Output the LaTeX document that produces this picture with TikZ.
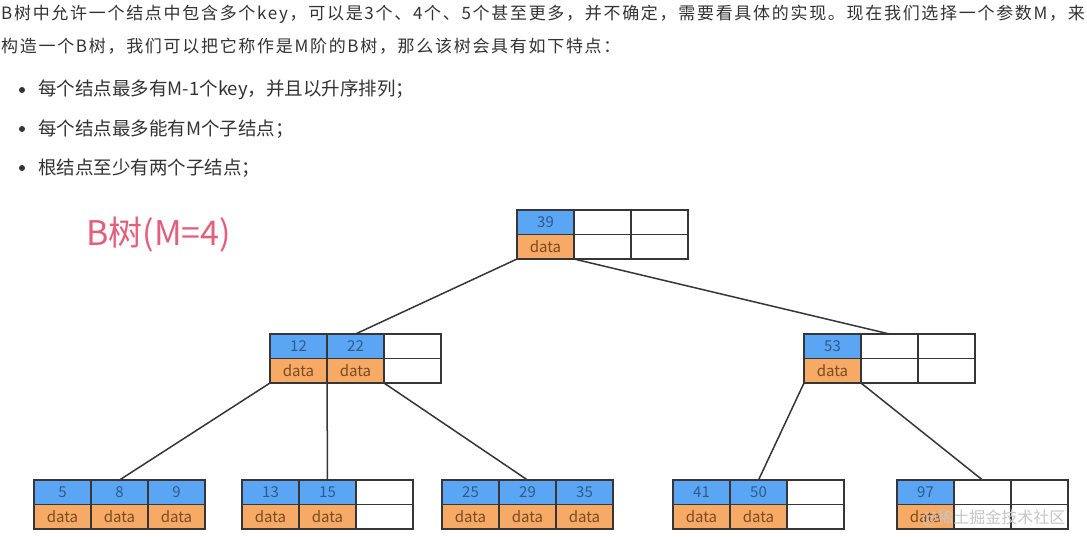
\documentclass[tikz,border=0pt]{standalone}
\usepackage{fontspec}
\setmainfont{Noto Sans CJK SC}
\newfontfamily\widefont[LetterSpace=10]{Noto Sans CJK SC}
\usetikzlibrary{positioning}
\definecolor{keyblue}{HTML}{5AA6F5}
\definecolor{keytext}{HTML}{2D5B8C}
\definecolor{dataorange}{HTML}{F7AA66}
\definecolor{datatext}{HTML}{7A4B22}
\definecolor{titlepink}{HTML}{E3607C}
\definecolor{bodygray}{HTML}{333333}
\definecolor{edgegray}{HTML}{363636}

% one slot of a B-tree node: key on top, data below (empty key = free slot)
\newcommand{\bcell}[3]{%
  \ifx&#3&
    \node[freecell, #2] (#1) {};
    \node[freecell, below=0pt of #1] (#1d) {};
  \else
    \node[keycell, #2] (#1) {#3};
    \node[datacell, below=0pt of #1] (#1d) {data};
  \fi}
% a B-tree node with three slots, placed by its top left corner
\newcommand{\btnode}[5]{%
  \bcell{#1a}{anchor=north west, at={(#2)}}{#3}
  \bcell{#1b}{right=0pt of #1a}{#4}
  \bcell{#1c}{right=0pt of #1b}{#5}}

\begin{document}
\begin{tikzpicture}[
        x=1pt, y=-1pt,
        cell/.style={
            minimum width=57pt,
            minimum height=24.5pt,
            inner sep=0pt,
            outer sep=0pt,
            draw=edgegray,
            line width=1.6pt,
            font=\fontsize{15}{15}\selectfont
        },
        keycell/.style={cell, fill=keyblue, text=keytext},
        datacell/.style={cell, fill=dataorange, text=datatext},
        freecell/.style={cell, fill=white},
        link/.style={edgegray, line width=1.5pt},
        body/.style={anchor=west, inner sep=0pt, text=bodygray,
            font=\widefont\fontsize{17}{17}\selectfont},
        item/.style={body, font=\normalfont\fontsize{18.5}{18.5}\selectfont},
        dot/.style={circle, fill=bodygray, inner sep=0pt, minimum size=6pt}
    ]
        \useasboundingbox[fill=white] (0,0) rectangle (1087,536);

        % intro text
        \node[body] (intro1) at (1,14) {B树中允许一个结点中包含多个key，可以是3个、4个、5个甚至更多，并不确定，需要看具体的实现。现在我们选择一个参数M，来};
        \node[body] (intro2) at (1,46) {构造一个B树，我们可以把它称作是M阶的B树，那么该树会具有如下特点：};

        % properties
        \node[dot] (d1) at (22,90) {};
        \node[dot] (d2) at (22,129) {};
        \node[dot] (d3) at (22,168) {};
        \node[item, right=13pt of d1] (p1) {每个结点最多有M-1个key，并且以升序排列；};
        \node[item, right=13pt of d2] (p2) {每个结点最多能有M个子结点；};
        \node[item, right=13pt of d3] (p3) {根结点至少有两个子结点；};

        \node[anchor=west, inner sep=0pt, text=titlepink,
            font=\fontsize{34}{34}\selectfont] (title) at (86,235) {B树(M=4)};

        % tree nodes
        \btnode{root}{517,210}{39}{}{}
        \btnode{L}{270,334}{12}{22}{}
        \btnode{R}{804,334}{53}{}{}
        \btnode{Ba}{34,480}{5}{8}{9}
        \btnode{Bb}{242,480}{13}{15}{}
        \btnode{Bc}{442,480}{25}{29}{35}
        \btnode{Bd}{673,480}{41}{50}{}
        \btnode{Be}{897,480}{97}{}{}

        % child pointers
        \draw[link] (rootad.south west) -- (Lb.north);
        \draw[link] (rootad.south east) -- (Rb.north);
        \draw[link] (Lad.south west) -- (Bab.north);
        \draw[link] (Lad.south east) -- (Bbb.north);
        \draw[link] (Lbd.south east) -- (Bcb.north);
        \draw[link] (Rad.south west) -- (Bdb.north);
        \draw[link] (Rad.south east) -- (Beb.north);

        \node[anchor=west, inner sep=0pt, text=gray!45,
            font=\fontsize{16}{16}\selectfont] (mark) at (922,518) {@稀土掘金技术社区};
    \end{tikzpicture}
\end{document}
